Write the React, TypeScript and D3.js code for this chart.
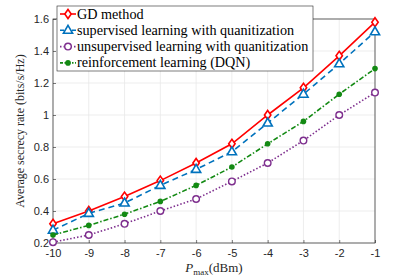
import React, { useEffect, useRef } from "react";
import * as d3 from "d3";

// P_max (dBm)
const pmax = [-10, -9, -8, -7, -6, -5, -4, -3, -2, -1];

const gdMethod = [0.32, 0.4, 0.49, 0.59, 0.7, 0.82, 1.0, 1.17, 1.37, 1.58];
const supervised = [0.28, 0.385, 0.45, 0.56, 0.66, 0.77, 0.95, 1.13, 1.32, 1.52];
const unsupervised = [0.205, 0.25, 0.32, 0.4, 0.475, 0.585, 0.7, 0.84, 1.0, 1.14];
const reinforcement = [0.25, 0.31, 0.38, 0.46, 0.56, 0.675, 0.82, 0.96, 1.13, 1.29];

const xTicks = [-10, -9, -8, -7, -6, -5, -4, -3, -2, -1];
const yTicks = [0.2, 0.4, 0.6, 0.8, 1, 1.2, 1.4, 1.6];

const series = [
  { name: "GD method", values: gdMethod, color: "#ff0000", dash: "", legendDash: "", marker: "diamond" },
  { name: "supervised learning with quanitization", values: supervised, color: "#0072bd", dash: "6,4", legendDash: "4,2", marker: "triangle" },
  { name: "unsupervised learning with quanitization", values: unsupervised, color: "#7e2f8e", dash: "1.5,2", legendDash: "1.5,2", marker: "circle" },
  { name: "reinforcement learning (DQN)", values: reinforcement, color: "#138a13", dash: "5,2,1.5,2", legendDash: "3,1.5,1.5,1.5", marker: "dot" },
];

const App = () => {
  const svgRef = useRef<SVGSVGElement>(null);

  useEffect(() => {
    const svg = d3.select(svgRef.current);
    svg.selectAll("*").remove();

    const margin = { top: 19, right: 40, bottom: 34, left: 53 };
    const W = 415;
    const H = 277;
    const width = W - margin.left - margin.right;
    const height = H - margin.top - margin.bottom;

    const x = d3.scaleLinear().domain([-10, -1]).range([0, width]);
    const y = d3.scaleLinear().domain([0.2, 1.6]).range([height, 0]);

    svg.append("rect").attr("width", W).attr("height", H).attr("fill", "#fff");

    const g = svg.append("g").attr("transform", `translate(${margin.left},${margin.top})`);

    // grid
    g.append("g")
      .selectAll("line")
      .data(xTicks)
      .join("line")
      .attr("x1", (d) => x(d))
      .attr("x2", (d) => x(d))
      .attr("y1", 0)
      .attr("y2", height)
      .attr("stroke", "#e8e8e8")
      .attr("stroke-width", 0.8);
    g.append("g")
      .selectAll("line")
      .data(yTicks)
      .join("line")
      .attr("x1", 0)
      .attr("x2", width)
      .attr("y1", (d) => y(d))
      .attr("y2", (d) => y(d))
      .attr("stroke", "#e8e8e8")
      .attr("stroke-width", 0.8);

    // axes
    const xAxis = g
      .append("g")
      .attr("transform", `translate(0,${height})`)
      .call(d3.axisBottom(x).tickValues(xTicks).tickSize(-3).tickSizeOuter(0).tickFormat((d) => String(d)));
    const yAxis = g
      .append("g")
      .call(d3.axisLeft(y).tickValues(yTicks).tickSize(-3).tickSizeOuter(0).tickFormat((d) => String(d)));
    [xAxis, yAxis].forEach((a) => {
      a.select(".domain").remove();
      a.selectAll("line").attr("stroke", "#262626").attr("stroke-width", 0.6);
      a.selectAll("text")
        .attr("fill", "#262626")
        .style("font-family", "Liberation Sans, Arial, sans-serif")
        .style("font-size", "11px");
    });
    xAxis.selectAll("text").attr("dy", "0.71em").attr("y", 6);
    yAxis.selectAll("text").attr("x", -4);

    g.append("rect")
      .attr("width", width)
      .attr("height", height)
      .attr("fill", "none")
      .attr("stroke", "#262626")
      .attr("stroke-width", 0.7);

    const drawMarker = (sel: any, type: string, color: string) => {
      if (type === "diamond") {
        sel.append("path").attr("d", "M0,-4.5L3.2,0L0,4.5L-3.2,0Z").attr("fill", "#fff").attr("stroke", color).attr("stroke-width", 1.6);
      } else if (type === "triangle") {
        sel.append("path").attr("d", "M0,-5L4.6,3L-4.6,3Z").attr("fill", "#fff").attr("stroke", color).attr("stroke-width", 1.6);
      } else if (type === "circle") {
        sel.append("circle").attr("r", 3.3).attr("fill", "#fff").attr("stroke", color).attr("stroke-width", 1.4);
      } else {
        sel.append("circle").attr("r", 2.8).attr("fill", color);
      }
    };

    const line = d3
      .line<number>()
      .x((_, i) => x(pmax[i]))
      .y((d) => y(d));

    series.forEach((s) => {
      g.append("path")
        .datum(s.values)
        .attr("d", line)
        .attr("fill", "none")
        .attr("stroke", s.color)
        .attr("stroke-width", 1.6)
        .attr("stroke-dasharray", s.dash);
      s.values.forEach((v, i) => {
        const m = g.append("g").attr("transform", `translate(${x(pmax[i])},${y(v)})`);
        drawMarker(m, s.marker, s.color);
      });
    });

    // labels
    svg
      .append("text")
      .attr("transform", `translate(24,${margin.top + height / 2}) rotate(-90)`)
      .attr("text-anchor", "middle")
      .style("font-family", "Liberation Serif, Times New Roman, serif")
      .style("font-size", "12px")
      .attr("fill", "#262626")
      .text("Average secrecy rate (bits/s/Hz)");

    const xl = svg
      .append("text")
      .attr("x", margin.left + width / 2)
      .attr("y", 272)
      .attr("text-anchor", "middle")
      .style("font-family", "Liberation Serif, Times New Roman, serif")
      .style("font-size", "13px")
      .attr("fill", "#262626");
    xl.append("tspan").style("font-style", "italic").text("P");
    xl.append("tspan").attr("dy", 2.5).style("font-size", "9px").text("max");
    xl.append("tspan").attr("dy", -2.5).text("(dBm)");

    // legend
    const lg = svg.append("g").attr("transform", "translate(57,6)");
    lg.append("rect")
      .attr("width", 256)
      .attr("height", 65)
      .attr("fill", "#fff")
      .attr("stroke", "#262626")
      .attr("stroke-width", 0.6);
    series.forEach((s, i) => {
      const row = lg.append("g").attr("transform", `translate(0,${8 + i * 16.3})`);
      row.append("line")
        .attr("x1", 3)
        .attr("x2", 19)
        .attr("stroke", s.color)
        .attr("stroke-width", 1.6)
        .attr("stroke-dasharray", s.legendDash);
      drawMarker(row.append("g").attr("transform", "translate(11,0)"), s.marker, s.color);
      row.append("text")
        .attr("x", 20)
        .attr("y", 4.5)
        .style("font-family", "Liberation Serif, Times New Roman, serif")
        .style("font-size", "14.2px")
        .attr("fill", "#000")
        .text(s.name);
    });
  }, []);

  return (
    <svg ref={svgRef} width={415} height={277} style={{ position: "absolute", left: 0, top: 0 }} />
  );
};

export default App;
